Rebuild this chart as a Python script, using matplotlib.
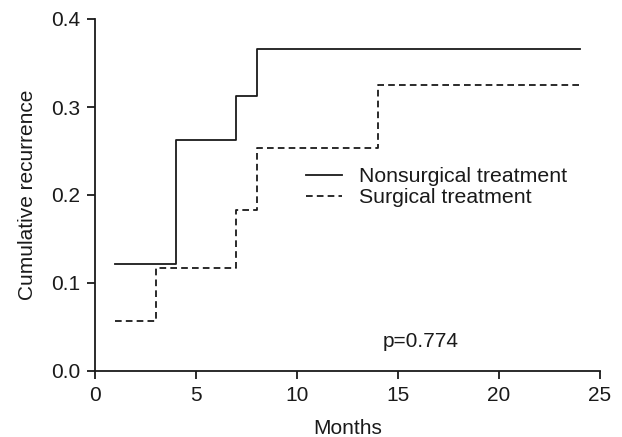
import matplotlib
matplotlib.use("Agg")
import matplotlib.pyplot as plt

plt.rcParams['font.family'] = ['Liberation Sans', 'DejaVu Sans']
plt.rcParams['lines.scale_dashes'] = False

# Data (step functions: times where level changes, levels)
nonsurg_t = [1, 4, 7, 8, 24]
nonsurg_y = [0.122, 0.262, 0.312, 0.366, 0.366]
surg_t = [1, 3, 7, 8, 14, 24]
surg_y = [0.057, 0.117, 0.183, 0.253, 0.325, 0.325]
labels = ["Nonsurgical treatment", "Surgical treatment"]
xticks = [0, 5, 10, 15, 20, 25]
yticks = [0.0, 0.1, 0.2, 0.3, 0.4]
ptext = "p=0.774"

col = "#1a1a1a"
fs = 15

fig = plt.figure(figsize=(6.22, 4.37), dpi=100)
ax = fig.add_axes([95/622, 1-371/437, 505/622, 352/437])

ax.step(nonsurg_t, nonsurg_y, where='post', color=col, lw=1.3,
        label=labels[0], clip_on=False)
ax.step(surg_t, surg_y, where='post', color=col, lw=1.3,
        dashes=(4.8, 3.0), label=labels[1], clip_on=False)

ax.set_xlim(0, 25)
ax.set_ylim(0, 0.4)
ax.set_xticks(xticks)
ax.set_yticks(yticks)
ax.set_xticklabels([str(v) for v in xticks])
ax.set_yticklabels([f"{v:.1f}" for v in yticks])
for s in ['top', 'right']:
    ax.spines[s].set_visible(False)
for s in ['left', 'bottom']:
    ax.spines[s].set_color(col)
    ax.spines[s].set_linewidth(1.3)
ax.tick_params(direction='out', length=5.8, width=1.3, color=col,
               labelsize=fs, labelcolor=col, pad=5)

ax.set_xlabel("Months", fontsize=fs, color=col)
ax.set_ylabel("Cumulative recurrence", fontsize=fs, color=col)
ax.xaxis.set_label_coords(0.5, -0.137)
ax.yaxis.set_label_coords(-0.115, 0.5)

ax.text(14.25, 0.027, ptext, fontsize=fs, color=col, ha='left', va='baseline')

leg = ax.legend(loc='upper left', bbox_to_anchor=(306/622, 1-167/437),
                bbox_transform=fig.transFigure, frameon=False, fontsize=15.3,
                handlelength=1.7, handletextpad=0.8, borderpad=0,
                borderaxespad=0, labelspacing=0.1, labelcolor=col)

fig.savefig("out.png", dpi=100)
